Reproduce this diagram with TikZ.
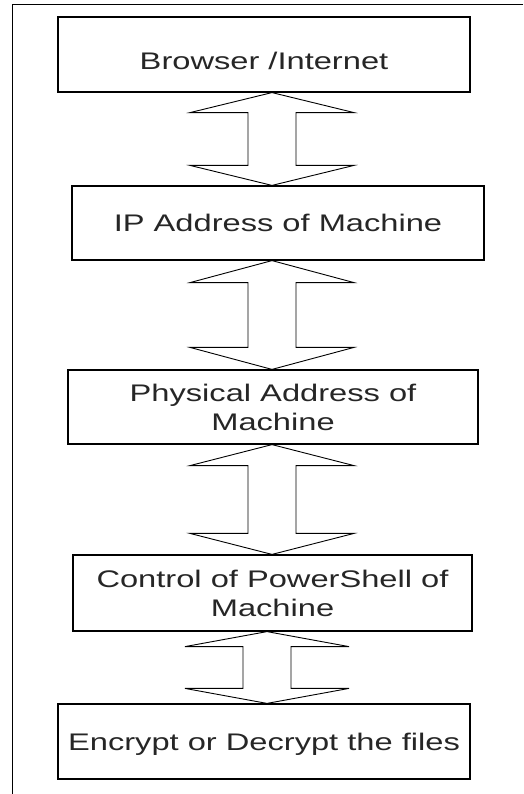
\documentclass[tikz,border=0pt]{standalone}
\usepackage{fontspec}
\setmainfont[FakeStretch=1.36]{Liberation Sans}
\usetikzlibrary{calc}
\newcommand{\dblarrow}[4]{%
  \draw[barrow] (#1 |- #2.south) coordinate (tmp)
    -- ++(-82,#4) -- ++(58,0)
    -- ($(#1 |- #3.north)+(-24,-#4)$) -- ++(-58,0)
    -- (#1 |- #3.north)
    -- ++(82,-#4) -- ++(-58,0)
    -- ($(tmp)+(24,#4)$) -- ++(58,0) -- cycle;}
\begin{document}
\begin{tikzpicture}[x=1pt,y=-1pt,
  box/.style={draw, line width=1.2pt, inner sep=0pt, align=center,
    font=\fontsize{24}{29}\selectfont, text=black!85},
  barrow/.style={draw, line width=0.9pt, line join=miter},
  frameline/.style={draw, line width=1pt}]
\useasboundingbox (0,0) rectangle (523,794);
\draw[frameline] (523,5) -- (12,5) -- (12,794);

\node[box, minimum width=412pt, minimum height=75pt, text height=31pt, text depth=0pt] (b1) at (264,54.5) {Browser /Internet};
\node[box, minimum width=412pt, minimum height=74pt, text height=17pt, text depth=0pt] (b2) at (278,223) {IP Address of Machine};
\node[box, minimum width=410pt, minimum height=74pt] (b3) at (273,407) {Physical Address of\\Machine};
\node[box, minimum width=399pt, minimum height=76pt] (b4) at (272.5,593) {Control of PowerShell of\\Machine};
\node[box, minimum width=412pt, minimum height=75pt, text height=17pt, text depth=0pt] (b5) at (264,741.5) {Encrypt or Decrypt the files};

\coordinate (a1) at (272,0);
\coordinate (a2) at (272,0);
\coordinate (a3) at (272,0);
\coordinate (a4) at (267,0);
\dblarrow{a1}{b1}{b2}{20}
\dblarrow{a2}{b2}{b3}{22}
\dblarrow{a3}{b3}{b4}{21}
\dblarrow{a4}{b4}{b5}{15}
\end{tikzpicture}
\end{document}
